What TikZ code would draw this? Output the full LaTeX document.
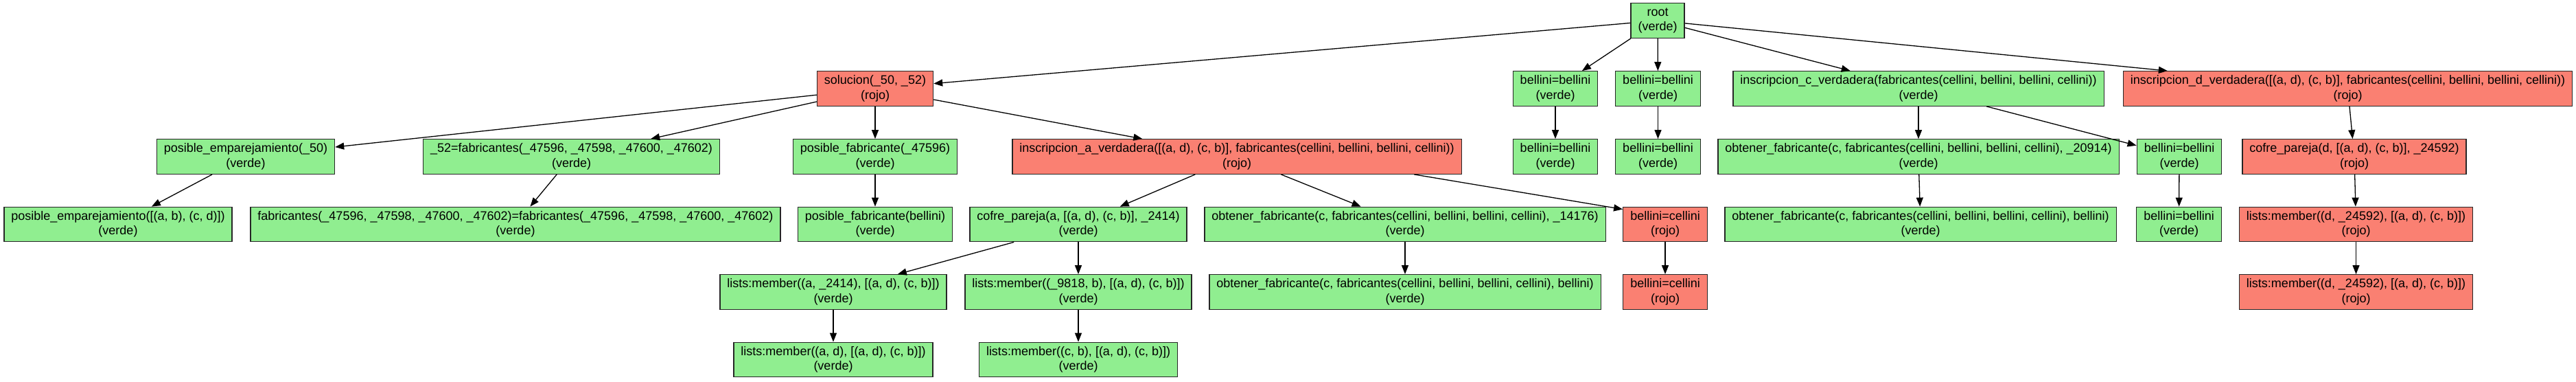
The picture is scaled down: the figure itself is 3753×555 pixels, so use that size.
\documentclass[tikz,border=0pt]{standalone}
\usepackage{fontspec}
\setmainfont{Liberation Sans}
\usetikzlibrary{arrows.meta,calc}
\definecolor{verde}{HTML}{90EE90}
\definecolor{rojo}{HTML}{FA8072}
\tikzset{
  box/.style={draw=black!85, line width=1.3pt, rectangle, align=center,
    inner xsep=10.5pt, inner ysep=3pt, minimum height=50.5pt,
    font=\fontsize{18}{21.6}\selectfont},
  okbox/.style={box, fill=verde},
  badbox/.style={box, fill=rojo},
  edge/.style={draw=black, line width=1.3pt, -{Triangle[length=13pt,width=10pt]}}
}
\begin{document}
\begin{tikzpicture}[x=1pt,y=-1pt]
\useasboundingbox (0,0) rectangle (3753,555);
% row 0
\node[okbox] (root) at (2415,30) {root\\(verde)};
% row 1
\node[badbox] (sol) at (1275,129) {solucion(\_50, \_52)\\(rojo)};
\node[okbox] (bb1) at (2266,129) {bellini=bellini\\(verde)};
\node[okbox] (bb2) at (2415.5,129) {bellini=bellini\\(verde)};
\node[okbox] (inscC) at (2795,129) {inscripcion\_c\_verdadera(fabricantes(cellini, bellini, bellini, cellini))\\(verde)};
\node[badbox] (inscD) at (3420.5,129) {inscripcion\_d\_verdadera([(a, d), (c, b)], fabricantes(cellini, bellini, bellini, cellini))\\(rojo)};
% row 2
\node[okbox] (pe50) at (358,228) {posible\_emparejamiento(\_50)\\(verde)};
\node[okbox] (f52) at (832.6,228) {\_52=fabricantes(\_47596, \_47598, \_47600, \_47602)\\(verde)};
\node[okbox] (pf) at (1275,228) {posible\_fabricante(\_47596)\\(verde)};
\node[badbox] (inscA) at (1802,228) {inscripcion\_a\_verdadera([(a, d), (c, b)], fabricantes(cellini, bellini, bellini, cellini))\\(rojo)};
\node[okbox] (bb1b) at (2266,228) {bellini=bellini\\(verde)};
\node[okbox] (bb2b) at (2415.5,228) {bellini=bellini\\(verde)};
\node[okbox] (of20914) at (2795,228) {obtener\_fabricante(c, fabricantes(cellini, bellini, bellini, cellini), \_20914)\\(verde)};
\node[okbox] (bb3) at (3175,228) {bellini=bellini\\(verde)};
\node[badbox] (cpD) at (3430,228) {cofre\_pareja(d, [(a, d), (c, b)], \_24592)\\(rojo)};
% row 3
\node[okbox] (peL) at (172,326.5) {posible\_emparejamiento([(a, b), (c, d)])\\(verde)};
\node[okbox] (fab) at (751,326.5) {fabricantes(\_47596, \_47598, \_47600, \_47602)=fabricantes(\_47596, \_47598, \_47600, \_47602)\\(verde)};
\node[okbox] (pfb) at (1275,326.5) {posible\_fabricante(bellini)\\(verde)};
\node[okbox] (cpA) at (1571,326.5) {cofre\_pareja(a, [(a, d), (c, b)], \_2414)\\(verde)};
\node[okbox] (of14176) at (2047,326.5) {obtener\_fabricante(c, fabricantes(cellini, bellini, bellini, cellini), \_14176)\\(verde)};
\node[badbox] (bc1) at (2426,326.5) {bellini=cellini\\(rojo)};
\node[okbox] (ofb2) at (2798,326.5) {obtener\_fabricante(c, fabricantes(cellini, bellini, bellini, cellini), bellini)\\(verde)};
\node[okbox] (bb3b) at (3174.5,326.5) {bellini=bellini\\(verde)};
\node[badbox] (lmD1) at (3432.5,326.5) {lists:member((d, \_24592), [(a, d), (c, b)])\\(rojo)};
% row 4
\node[okbox] (lmA) at (1214,425) {lists:member((a, \_2414), [(a, d), (c, b)])\\(verde)};
\node[okbox] (lm9818) at (1571,425) {lists:member((\_9818, b), [(a, d), (c, b)])\\(verde)};
\node[okbox] (ofb1) at (2047,425) {obtener\_fabricante(c, fabricantes(cellini, bellini, bellini, cellini), bellini)\\(verde)};
\node[badbox] (bc2) at (2426,425) {bellini=cellini\\(rojo)};
\node[badbox] (lmD2) at (3432.5,425) {lists:member((d, \_24592), [(a, d), (c, b)])\\(rojo)};
% row 5
\node[okbox] (lmAd) at (1214,523.5) {lists:member((a, d), [(a, d), (c, b)])\\(verde)};
\node[okbox] (lmCb) at (1571,523.5) {lists:member((c, b), [(a, d), (c, b)])\\(verde)};
% edges
\draw[edge] (root) -- (sol);
\draw[edge] (root) -- (bb1);
\draw[edge] (root) -- (bb2);
\draw[edge] (root) -- (inscC);
\draw[edge] (root) -- (inscD);
\draw[edge] (sol) -- (pe50);
\draw[edge] (sol) -- (f52);
\draw[edge] (sol) -- (pf);
\draw[edge] (sol) -- (inscA);
\draw[edge] (pe50) -- (peL);
\draw[edge] (f52) -- (fab);
\draw[edge] (pf) -- (pfb);
\draw[edge] (inscA) -- (cpA);
\draw[edge] (inscA) -- (of14176);
\draw[edge] ($(inscA.south west)!0.894!(inscA.south east)$) -- ([yshift=-4pt]bc1.north west);
\draw[edge] (bb1) -- (bb1b);
\draw[edge] (bb2) -- (bb2b);
\draw[edge] (inscC) -- (of20914);
\draw[edge] (inscC) -- (bb3);
\draw[edge] (inscD) -- (cpD);
\draw[edge] (of20914) -- (ofb2);
\draw[edge] (bb3) -- (bb3b);
\draw[edge] (cpD) -- (lmD1);
\draw[edge] (cpA) -- (lmA);
\draw[edge] (cpA) -- (lm9818);
\draw[edge] (of14176) -- (ofb1);
\draw[edge] (bc1) -- (bc2);
\draw[edge] (lmD1) -- (lmD2);
\draw[edge] (lmA) -- (lmAd);
\draw[edge] (lm9818) -- (lmCb);
\end{tikzpicture}
\end{document}
